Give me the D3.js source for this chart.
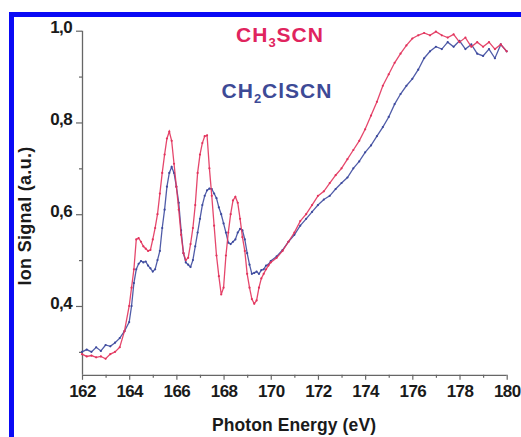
<!DOCTYPE html>
<html><head><meta charset="utf-8">
<script src="https://cdn.jsdelivr.net/npm/d3@7"></script>
<style>
html,body{margin:0;padding:0;background:#fff;}
svg{display:block;font-family:"Liberation Sans",Arial,sans-serif;}
</style></head>
<body><svg id="c" width="521" height="437"></svg>
<script>
// ---- data ----
const seriesNames = ["CH3SCN", "CH2ClSCN"];
const ch3scnX = [162.0,162.2,162.4,162.6,162.8,163.0,163.2,163.4,163.6,163.8,164.0,164.1,164.2,164.3,164.4,164.5,164.6,164.7,164.8,164.9,165.0,165.1,165.2,165.3,165.4,165.5,165.6,165.7,165.8,165.9,166.0,166.1,166.2,166.3,166.4,166.5,166.6,166.7,166.8,166.9,167.0,167.1,167.2,167.3,167.4,167.5,167.6,167.7,167.8,167.9,168.0,168.1,168.2,168.3,168.4,168.5,168.6,168.7,168.8,168.9,169.0,169.1,169.2,169.3,169.4,169.5,169.6,169.7,169.8,169.9,170.0,170.25,170.5,170.75,171.0,171.25,171.5,171.75,172.0,172.25,172.5,172.75,173.0,173.25,173.5,173.75,174.0,174.25,174.5,174.75,175.0,175.25,175.5,175.75,176.0,176.25,176.5,176.75,177.0,177.25,177.5,177.75,178.0,178.25,178.5,178.75,179.0,179.25,179.5,179.75,180.0];
const ch3scnY = [0.295,0.290,0.292,0.288,0.290,0.285,0.295,0.300,0.310,0.345,0.400,0.440,0.480,0.545,0.548,0.540,0.530,0.525,0.520,0.522,0.545,0.570,0.600,0.645,0.690,0.730,0.765,0.780,0.760,0.710,0.660,0.610,0.555,0.515,0.500,0.505,0.535,0.570,0.620,0.690,0.730,0.755,0.770,0.772,0.700,0.640,0.575,0.510,0.465,0.425,0.440,0.510,0.560,0.600,0.630,0.638,0.625,0.590,0.550,0.520,0.470,0.440,0.415,0.405,0.412,0.440,0.460,0.470,0.480,0.488,0.495,0.505,0.520,0.540,0.560,0.585,0.600,0.620,0.640,0.650,0.668,0.685,0.700,0.720,0.740,0.760,0.785,0.815,0.845,0.880,0.905,0.930,0.950,0.968,0.983,0.990,0.995,0.990,0.998,0.990,0.985,0.992,0.975,0.985,0.965,0.975,0.965,0.975,0.960,0.970,0.955];
const ch2clscnX = ch3scnX.slice();
const ch2clscnY = [0.300,0.305,0.300,0.310,0.302,0.315,0.312,0.320,0.330,0.345,0.365,0.400,0.450,0.480,0.492,0.498,0.495,0.497,0.488,0.482,0.475,0.480,0.500,0.520,0.570,0.610,0.660,0.690,0.703,0.690,0.660,0.625,0.565,0.515,0.495,0.490,0.485,0.500,0.530,0.560,0.590,0.620,0.640,0.652,0.656,0.655,0.645,0.635,0.615,0.600,0.580,0.560,0.538,0.535,0.540,0.545,0.560,0.568,0.565,0.545,0.515,0.490,0.470,0.472,0.475,0.470,0.478,0.480,0.488,0.490,0.498,0.508,0.522,0.540,0.555,0.575,0.590,0.605,0.620,0.632,0.640,0.655,0.668,0.680,0.700,0.715,0.735,0.750,0.770,0.790,0.812,0.840,0.862,0.880,0.895,0.915,0.940,0.955,0.965,0.960,0.975,0.965,0.978,0.960,0.970,0.950,0.945,0.960,0.940,0.970,0.955];
const xTicks = [162,164,166,168,170,172,174,176,178,180];
const xMinorTicks = [163,165,167,169,171,173,175,177,179];
const yTicks = [0.4,0.6,0.8,1.0];
const yMinorTicks = [0.3,0.5,0.7,0.9];

// ---- layout ----
const svg = d3.select("#c");
const x = d3.scaleLinear().domain([162,180]).range([82,506.7]);
const y = d3.scaleLinear().domain([0.25,1.0]).range([374.8,30.7]);
const red = "#e2335c", blue = "#3d4a9e";

// blue frame (top & left)
svg.append("rect").attr("x",9).attr("y",12).attr("width",512).attr("height",5).attr("fill","#0a0af5");
svg.append("rect").attr("x",9).attr("y",12).attr("width",5).attr("height",425).attr("fill","#0a0af5");

const fmt = d => d3.format(".1f")(d).replace(".",",");
const axisColor = "#666";

// y axis
const gy = svg.append("g").attr("transform","translate(82,0)");
gy.call(d3.axisLeft(y).tickValues(yTicks).tickSize(6).tickPadding(4).tickFormat(fmt));
const gym = svg.append("g").attr("transform","translate(82,0)");
gym.call(d3.axisLeft(y).tickValues(yMinorTicks).tickSize(3).tickFormat(""));
gym.select(".domain").remove();
// x axis
const gx = svg.append("g").attr("transform","translate(0,374.8)");
gx.call(d3.axisBottom(x).tickValues(xTicks).tickSize(5).tickPadding(5).tickFormat(d3.format("d")));
const gxm = svg.append("g").attr("transform","translate(0,374.8)");
gxm.call(d3.axisBottom(x).tickValues(xMinorTicks).tickSize(3).tickFormat(""));
gxm.select(".domain").remove();

svg.selectAll(".domain").attr("stroke",axisColor).attr("stroke-width",1.3);
gy.select(".domain").attr("d","M0.5,"+y(1.0)+"V"+y(0.25));
gx.select(".domain").attr("d","M"+x(162)+",0.5H"+x(180));
svg.selectAll(".tick line").attr("stroke",axisColor).attr("stroke-width",1.2);
svg.selectAll(".tick text").attr("fill","#1a1a1a").attr("font-size","17px").attr("font-weight","bold").attr("letter-spacing","-0.6px")
   .attr("font-family","'Liberation Sans',Arial,sans-serif");
gy.selectAll(".tick text").attr("dy","0.12em");

// axis titles
svg.append("text").attr("x",294).attr("y",431).attr("text-anchor","middle")
  .attr("font-size","17.5px").attr("font-weight","bold").attr("fill","#1a1a1a").attr("letter-spacing","0.1px")
  .text("Photon Energy (eV)");
svg.append("text").attr("transform","translate(31,216) rotate(-90)").attr("text-anchor","middle")
  .attr("font-size","18px").attr("font-weight","bold").attr("fill","#1a1a1a").attr("letter-spacing","0.3px")
  .text("Ion Signal (a.u.)");

// series
const data1 = ch3scnX.map((v,i)=>({x:v,y:ch3scnY[i]}));
const data2 = ch2clscnX.map((v,i)=>({x:v,y:ch2clscnY[i]}));
const line = d3.line().x(d=>x(d.x)).y(d=>y(d.y));
[[data2,blue],[data1,red]].forEach(([d,c])=>{
  svg.append("path").datum(d).attr("d",line).attr("fill","none").attr("stroke",c).attr("stroke-width",1.3).attr("opacity",0.9);
  svg.append("g").selectAll("circle").data(d).join("circle")
    .attr("cx",p=>x(p.x)).attr("cy",p=>y(p.y)).attr("r",1.1).attr("fill",c);
});

// legend labels
function chem(xp, yp, parts, color){
  const t = svg.append("text").attr("x",xp).attr("y",yp).attr("text-anchor","middle")
    .attr("font-size","21px").attr("font-weight","bold").attr("fill",color).attr("letter-spacing","1px");
  parts.forEach(p=>{
    if(p.sub){ t.append("tspan").attr("dy","5").attr("font-size","13px").text(p.t); }
    else { t.append("tspan").attr("dy", p.after? "-5":"0").text(p.t); }
  });
}
chem(280, 41.5, [{t:"CH"},{t:seriesNames[0].slice(2,3),sub:true},{t:"SCN",after:true}], "#e0245e");
chem(277, 98, [{t:"CH"},{t:"2",sub:true},{t:"ClSCN",after:true}], "#3d4a96");
</script></body></html>
